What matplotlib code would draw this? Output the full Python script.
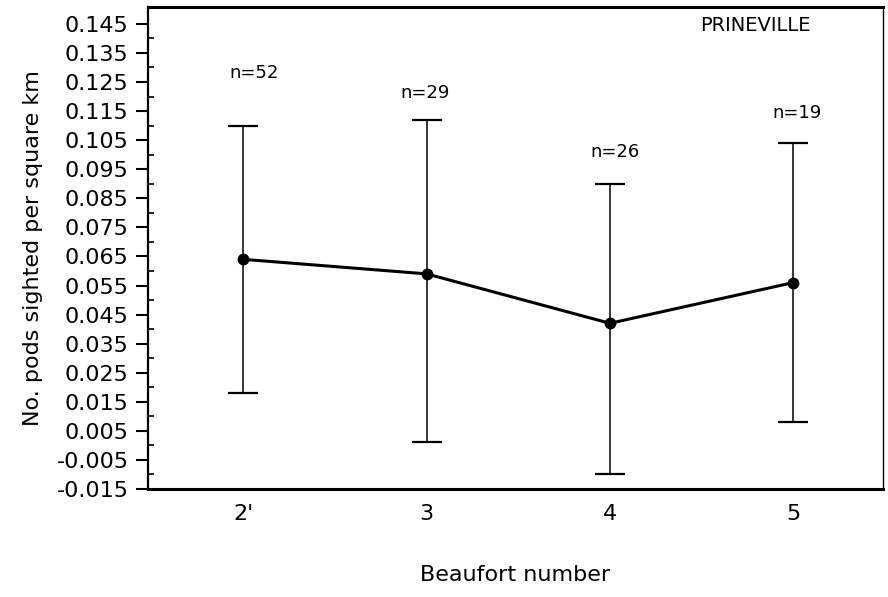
import numpy as np
import matplotlib
matplotlib.use("Agg")
import matplotlib.pyplot as plt
from matplotlib.ticker import FixedLocator, FormatStrFormatter

# Pod sightings per square km by Beaufort sea state
beaufort = [2, 3, 4, 5]
tick_labels = ["2'", "3", "4", "5"]
means = [0.064, 0.059, 0.042, 0.056]
lower = [0.018, 0.001, -0.010, 0.008]
upper = [0.110, 0.112, 0.090, 0.104]
n_counts = [52, 29, 26, 19]

# where the sample-size annotations sit
label_y = [0.128, 0.1213, 0.101, 0.1144]
label_dx = [0.06, -0.01, 0.03, 0.02]

plt.rcParams["font.family"] = ["DejaVu Sans"]

fig = plt.figure(figsize=(8.88, 5.97), dpi=100)
ax = fig.add_axes([148 / 888, 1 - 489 / 597, (883 - 148) / 888, (489 - 7) / 597])

x = np.array(beaufort, dtype=float)
m = np.array(means)
yerr = np.vstack([m - np.array(lower), np.array(upper) - m])

ax.errorbar(x, m, yerr=yerr, fmt="none", ecolor="black", elinewidth=1.1,
            capsize=10.5, capthick=1.6, zorder=2)
ax.plot(x, m, color="black", linewidth=2.2, marker="o", markersize=7.5, zorder=3)

for xi, yi, dx, n in zip(x, label_y, label_dx, n_counts):
    ax.text(xi + dx, yi, f"n={n}", ha="center", va="center", fontsize=13)

ax.text(0.826, 0.962, "PRINEVILLE", transform=ax.transAxes, ha="center",
        va="center", fontsize=14, color="black")

ax.set_xlim(1.48, 5.49)
ax.set_ylim(-0.015, 0.1508)

ax.set_xticks(beaufort)
ax.set_xticklabels(tick_labels)
ax.tick_params(axis="x", length=0, pad=11, labelsize=16)

major = np.round(np.arange(-0.015, 0.1451, 0.01), 3)
minor = np.round(np.arange(-0.010, 0.1451, 0.01), 3)
ax.yaxis.set_major_locator(FixedLocator(major))
ax.yaxis.set_minor_locator(FixedLocator(minor))
ax.yaxis.set_major_formatter(FormatStrFormatter("%.3f"))
ax.tick_params(axis="y", which="major", direction="out", length=9, width=1.5,
               pad=5, labelsize=16)
ax.tick_params(axis="y", which="minor", direction="in", length=4, width=1.2)

ax.spines["top"].set_linewidth(2.2)
ax.spines["bottom"].set_linewidth(2.2)
ax.spines["left"].set_linewidth(1.6)
ax.spines["right"].set_linewidth(1.0)

ax.set_ylabel("No. pods sighted per square km", fontsize=16, labelpad=10)
ax.set_xlabel("Beaufort number", fontsize=16, labelpad=29)

fig.savefig("out.png", dpi=100, facecolor="white")
